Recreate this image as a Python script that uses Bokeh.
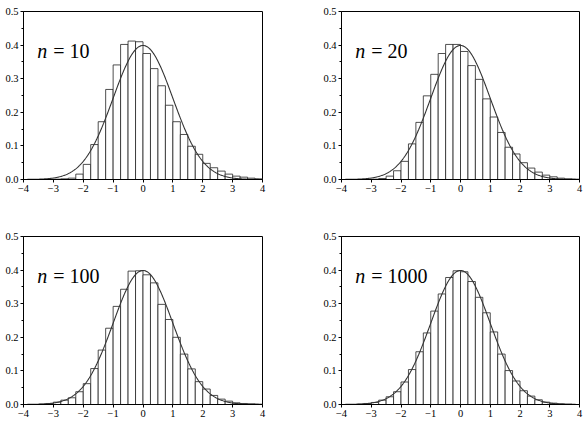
import numpy as np
from bokeh.plotting import figure
from bokeh.layouts import column, row
from bokeh.models import Range1d, FixedTicker
from bokeh.core.properties import value
from bokeh.embed import file_html
from bokeh.resources import INLINE

# ---- data ----
bin_edges = list(np.linspace(-4.0, 4.0, 33))  # bin width 0.25

n_values = [10, 20, 100, 1000]

dens_n10 = [0, 0, 0, 0, 0.001, 0.002, 0.004, 0.016, 0.045, 0.104, 0.172, 0.268,
            0.341, 0.402, 0.412, 0.410, 0.375, 0.330, 0.279, 0.221, 0.172, 0.134,
            0.099, 0.075, 0.048, 0.035, 0.025, 0.016, 0.010, 0.007, 0.004, 0.002]
dens_n20 = [0, 0, 0, 0, 0.001, 0.003, 0.010, 0.026, 0.054, 0.106, 0.170, 0.249,
            0.313, 0.375, 0.402, 0.402, 0.381, 0.339, 0.298, 0.240, 0.186, 0.140,
            0.096, 0.076, 0.050, 0.034, 0.022, 0.013, 0.008, 0.004, 0.002, 0.001]
dens_n100 = [0, 0, 0.001, 0.003, 0.007, 0.013, 0.020, 0.038, 0.062, 0.107, 0.162, 0.227,
             0.292, 0.343, 0.397, 0.398, 0.386, 0.362, 0.298, 0.253, 0.200, 0.150,
             0.106, 0.068, 0.046, 0.027, 0.016, 0.010, 0.005, 0.003, 0.002, 0.001]
dens_n1000 = [0, 0, 0.001, 0.003, 0.006, 0.013, 0.023, 0.038, 0.067, 0.104, 0.157, 0.213,
              0.278, 0.329, 0.378, 0.398, 0.395, 0.366, 0.319, 0.273, 0.216, 0.150,
              0.101, 0.070, 0.041, 0.025, 0.014, 0.007, 0.004, 0.002, 0.001, 0.0]

all_dens = [dens_n10, dens_n20, dens_n100, dens_n1000]

x_ticks = [-4, -3, -2, -1, 0, 1, 2, 3, 4]
x_tick_labels = ["\u22124", "\u22123", "\u22122", "\u22121", "0", "1", "2", "3", "4"]
y_ticks = [0.0, 0.1, 0.2, 0.3, 0.4, 0.5]
y_tick_labels = ["0.0", "0.1", "0.2", "0.3", "0.4", "0.5"]
y_minor = [0.05, 0.15, 0.25, 0.35, 0.45]

# theoretical standard normal density
curve_x = np.linspace(-4, 4, 401)
curve_y = np.exp(-curve_x ** 2 / 2) / np.sqrt(2 * np.pi)

SERIF = "Liberation Serif"

# (width, height, left, right, top, bottom) borders per panel
geoms = [
    (290, 220, 23, 28, 11, 41),
    (293, 220, 51, 4, 11, 41),
    (290, 215, 23, 28, 16, 11 + 20),
    (293, 215, 51, 4, 16, 11 + 20),
]

figs = []
for k in range(4):
    w, h, bl, br, bt, bb = geoms[k]
    p = figure(width=w, height=h, output_backend="svg", toolbar_location=None,
               x_range=Range1d(-4, 4), y_range=Range1d(0, 0.5),
               min_border_left=bl, min_border_right=br,
               min_border_top=bt, min_border_bottom=bb)
    p.background_fill_color = "white"
    p.border_fill_color = "white"
    p.outline_line_color = "black"
    p.outline_line_width = 1
    p.xgrid.visible = False
    p.ygrid.visible = False

    dens = all_dens[k]
    p.quad(left=bin_edges[:-1], right=bin_edges[1:], bottom=0, top=dens,
           fill_color="white", line_color="#222222", line_width=0.8)
    p.line(curve_x, curve_y, line_color="#333333", line_width=1.1)

    p.xaxis.ticker = FixedTicker(ticks=x_ticks)
    p.xaxis.major_label_overrides = {t: l for t, l in zip(x_ticks, x_tick_labels)}
    p.yaxis.ticker = FixedTicker(ticks=y_ticks, minor_ticks=y_minor)
    p.yaxis.major_label_overrides = {t: l for t, l in zip(y_ticks, y_tick_labels)}
    for ax in (p.xaxis, p.yaxis):
        ax.axis_line_color = "black"
        ax.major_tick_line_color = "black"
        ax.minor_tick_line_color = "black"
        ax.major_tick_in = 0
        ax.major_tick_out = 3
        ax.minor_tick_in = 0
        ax.minor_tick_out = 2
        ax.major_label_standoff = 2
        ax.major_label_text_font = SERIF
        ax.major_label_text_font_size = "10.5px"
        ax.major_label_text_color = "black"

    # label "n = N"
    p.text(x=[-3.54], y=[0.383], text=["n"], text_font=value(SERIF),
           text_font_style="italic", text_font_size="20px",
           text_baseline="alphabetic", text_align="left", text_color="black")
    p.text(x=[-3.54], y=[0.383], text=["= %d" % n_values[k]], text_font=value(SERIF),
           text_font_size="20px", x_offset=16,
           text_baseline="alphabetic", text_align="left", text_color="black")
    figs.append(p)

layout = column(row(figs[0], figs[1]), row(figs[2], figs[3]))
open("out.html", "w").write(file_html(layout, INLINE))
